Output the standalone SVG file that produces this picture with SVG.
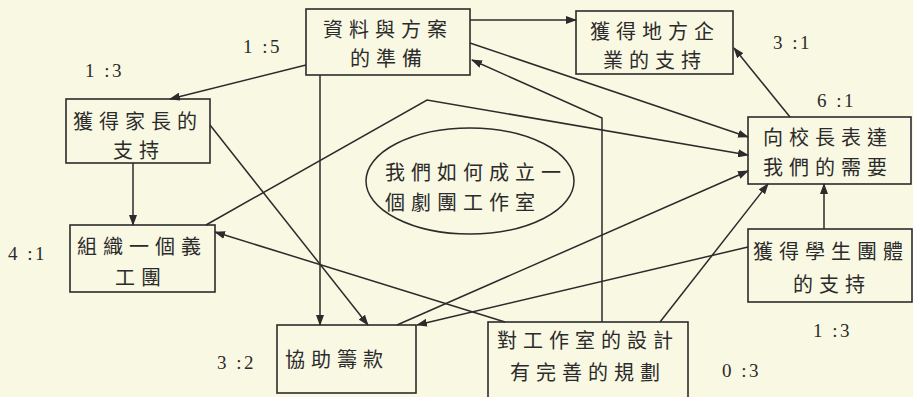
<svg xmlns="http://www.w3.org/2000/svg" width="913" height="397" viewBox="0 0 913 397">
<defs>
<marker id="ah" markerUnits="userSpaceOnUse" markerWidth="11" markerHeight="8" refX="10" refY="4" orient="auto">
<path d="M0,0 L11,4 L0,8 z" fill="#2b2b2b"/>
</marker>
<style>
.box{fill:none;stroke:#2b2b2b;stroke-width:1.6}
.ln{fill:none;stroke:#2b2b2b;stroke-width:1.5;marker-end:url(#ah)}
.t{font-family:"Noto Sans CJK TC","Noto Sans CJK SC",sans-serif;font-size:20px;fill:#2b2b2b;letter-spacing:6px;dominant-baseline:central}
.r{font-family:"Liberation Serif",serif;font-size:19px;fill:#2b2b2b;letter-spacing:2.5px;dominant-baseline:central}
</style>
</defs>
<rect width="913" height="397" fill="#f9f8e3"/>
<g id="connectors">
<path class="ln" d="M470,20 L576,20"/>
<path class="ln" d="M306,65 L170,99"/>
<path class="ln" d="M470,43 L748,137"/>
<path class="ln" d="M320,75 L320,325"/>
<path class="ln" d="M133,163 L133,225"/>
<path class="ln" d="M210,125 L368,325"/>
<path class="ln" d="M206,225 L427,100 L748,155"/>
<path class="ln" d="M602,322 L602,118 L472,60"/>
<path class="ln" d="M505,322 L215,232"/>
<path class="ln" d="M660,322 L768,184"/>
<path class="ln" d="M824,229 L824,184"/>
<path class="ln" d="M748,247 L417,325"/>
<path class="ln" d="M397,325 L748,171"/>
<path class="ln" d="M790,117 L734,48"/>
</g>
<g id="n-prep">
<rect class="box" x="306" y="9" width="164" height="66"/>
<text class="t" x="323" y="28">資料與方案</text>
<text class="t" x="350" y="57">的準備</text>
</g>
<g id="n-business">
<rect class="box" x="576" y="11" width="157" height="63"/>
<text class="t" x="590" y="30">獲得地方企</text>
<text class="t" x="603" y="59">業的支持</text>
</g>
<g id="n-parents">
<rect class="box" x="66" y="99" width="144" height="64"/>
<text class="t" x="73" y="120">獲得家長的</text>
<text class="t" x="113" y="149">支持</text>
</g>
<g id="n-principal">
<rect class="box" x="748" y="117" width="163" height="67"/>
<text class="t" x="763" y="136">向校長表達</text>
<text class="t" x="763" y="166">我們的需要</text>
</g>
<g id="n-center">
<ellipse cx="470" cy="181" rx="104" ry="53" fill="none" stroke="#2b2b2b" stroke-width="1.5"/>
<text class="t" x="385" y="171">我們如何成立一</text>
<text class="t" x="385" y="201">個劇團工作室</text>
</g>
<g id="n-volunteer">
<rect class="box" x="70" y="225" width="145" height="67"/>
<text class="t" x="77" y="245">組織一個義</text>
<text class="t" x="115" y="276">工團</text>
</g>
<g id="n-fund">
<rect class="box" x="277" y="325" width="139" height="68"/>
<text class="t" x="285" y="358">協助籌款</text>
</g>
<g id="n-design">
<rect class="box" x="488" y="322" width="200" height="90"/>
<text class="t" x="497" y="339">對工作室的設計</text>
<text class="t" x="510" y="371">有完善的規劃</text>
</g>
<g id="n-students">
<rect class="box" x="748" y="229" width="164" height="73"/>
<text class="t" x="753" y="250">獲得學生團體</text>
<text class="t" x="793" y="283">的支持</text>
</g>
<g id="ratios">
<text class="r" x="243" y="46">1 :5</text>
<text class="r" x="85" y="70">1 :3</text>
<text class="r" x="773" y="42">3 :1</text>
<text class="r" x="817" y="100">6 :1</text>
<text class="r" x="8" y="253">4 :1</text>
<text class="r" x="217" y="362">3 :2</text>
<text class="r" x="813" y="330">1 :3</text>
<text class="r" x="722" y="370">0 :3</text>
</g>
</svg>
